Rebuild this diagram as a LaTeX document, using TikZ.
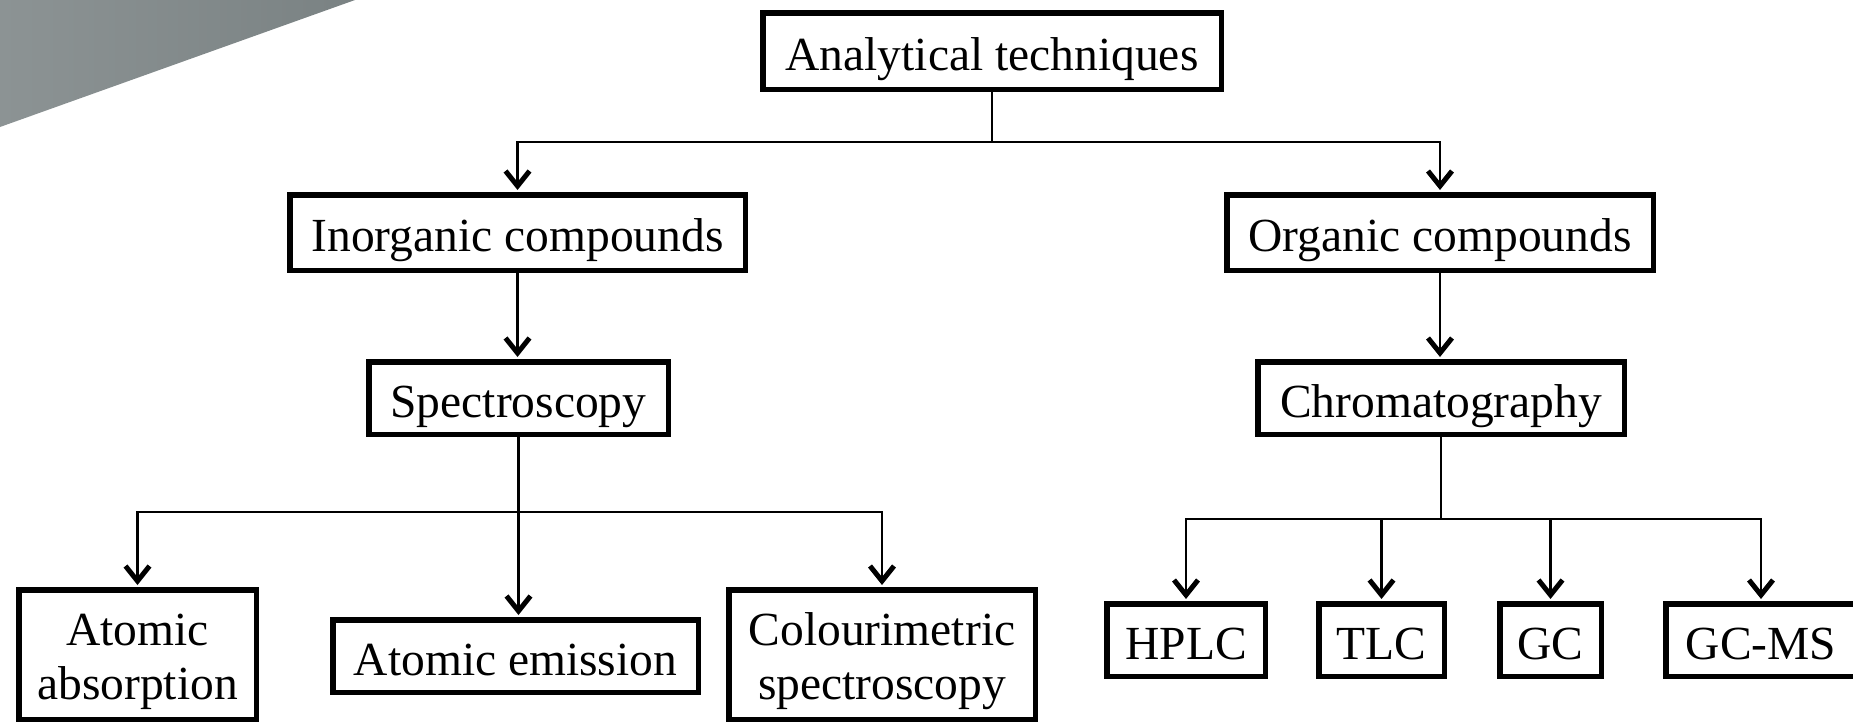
\documentclass[tikz,border=0pt]{standalone}
\usepackage{fontspec}
\setmainfont{Liberation Serif}
\usetikzlibrary{arrows.meta}
\definecolor{greyL}{RGB}{140,147,148}
\definecolor{greyR}{RGB}{122,130,131}
\tikzset{
  box/.style={draw=black, line width=5.5pt, inner sep=0pt, fill=white,
    font=\fontsize{47.5}{54}\selectfont, text height=40pt, text depth=2pt},
  twoline/.style={text height=40pt, text depth=59pt},
  conn/.style={line width=2.8pt, line join=miter},
  arr/.style={conn, -{Straight Barb[length=15pt, width=24pt, line width=5pt]}, shorten >=2pt}
}
\newcommand{\twol}[2]{\begin{tabular}[t]{@{}c@{}}#1\\#2\end{tabular}}
\begin{document}
\begin{tikzpicture}[x=1pt, y=-1pt]
\useasboundingbox (0,0) rectangle (1853,723);
% decorative grey corner
\shade[left color=greyL, right color=greyR] (0,0) -- (355,0) -- (0,127) -- cycle;

% nodes
\node[box, minimum width=458.5pt, minimum height=76.5pt] (top) at (992,51) {Analytical techniques};
\node[box, minimum width=455.5pt, minimum height=75.5pt] (inorg) at (517.5,232.5) {Inorganic compounds};
\node[box, minimum width=426.5pt, minimum height=75.5pt] (org) at (1440,232.5) {Organic compounds};
\node[box, minimum width=299.5pt, minimum height=72.5pt] (spec) at (518.5,398) {Spectroscopy};
\node[box, minimum width=366.5pt, minimum height=72.5pt] (chrom) at (1441,398) {Chromatography};
\node[box, twoline, minimum width=237.5pt, minimum height=129.5pt] (atabs) at (137.5,654.5) {\twol{Atomic}{absorption}};
\node[box, minimum width=365.5pt, minimum height=72.5pt] (atem) at (515.5,656) {Atomic emission};
\node[box, twoline, minimum width=306.5pt, minimum height=129.5pt] (color) at (882,654.5) {\twol{Colourimetric}{spectroscopy}};
\node[box, minimum width=158.5pt, minimum height=72.5pt] (hplc) at (1186,640) {HPLC};
\node[box, minimum width=125.5pt, minimum height=72.5pt] (tlc) at (1381.5,640) {TLC};
\node[box, minimum width=101.5pt, minimum height=72.5pt] (gc) at (1550.5,640) {GC};
\node[box, minimum width=190.5pt, minimum height=72.5pt] (gcms) at (1761,640) {GC-MS};

% junctions
\coordinate (j1) at (992,142);
\coordinate (j2) at (517,512);
\coordinate (j3) at (1441,519);

% connectors
\draw[conn] (top.south) -- (j1);
\draw[arr] (j1) -| (inorg.north);
\draw[arr] (j1) -| (org.north);
\draw[arr] (inorg.south) -- (inorg.south |- spec.north);
\draw[arr] (org.south) -- (org.south |- chrom.north);
\draw[arr] (spec.south) -- (spec.south |- atem.north);
\draw[arr] (j2) -| (atabs.north);
\draw[arr] (j2) -| (color.north);
\draw[conn] (chrom.south) -- (j3);
\draw[arr] (j3) -| (hplc.north);
\draw[arr] (j3) -| (tlc.north);
\draw[arr] (j3) -| (gc.north);
\draw[arr] (j3) -| (gcms.north);
\end{tikzpicture}
\end{document}
